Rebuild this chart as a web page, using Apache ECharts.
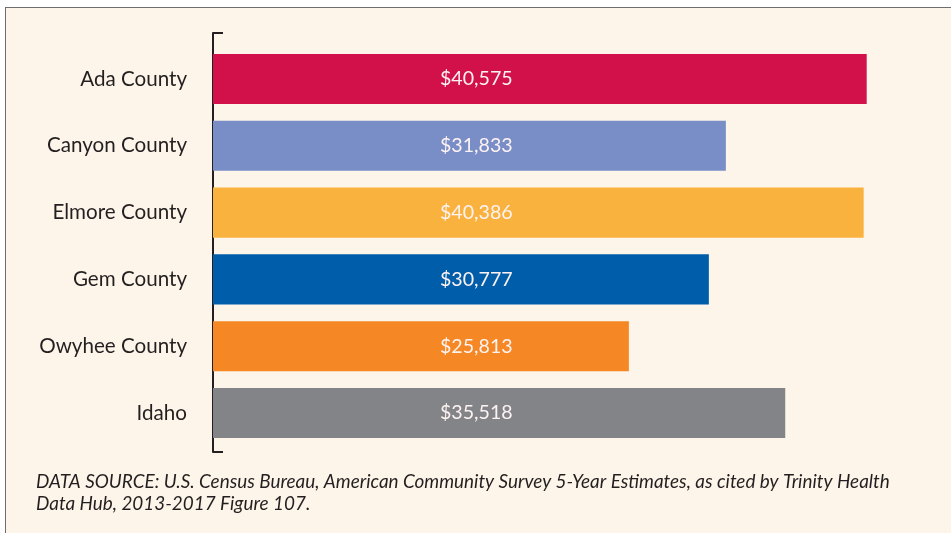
<!DOCTYPE html>
<html>
<head>
<meta charset="utf-8">
<script src="https://cdn.jsdelivr.net/npm/echarts@6/dist/echarts.min.js"></script>
<style>
  html, body { margin: 0; padding: 0; background: #ffffff; width: 951px; height: 533px; overflow: hidden; }
  #frame { position: absolute; left: 5px; top: 7px; width: 960px; height: 540px;
           background: #fdf5e9; border-left: 1.5px solid #6d6e70; border-top: 1.5px solid #6d6e70; }
  #chart { position: absolute; left: 0; top: 0; width: 951px; height: 533px; }
</style>
</head>
<body>
<div id="frame"></div>
<div id="chart"></div>
<script>
// Median household income by area
const areas = ['Ada County', 'Canyon County', 'Elmore County', 'Gem County', 'Owyhee County', 'Idaho'];
const incomes = [40575, 31833, 40386, 30777, 25813, 35518];
const barColors = ['#d2114a', '#798dc7', '#fab23f', '#005daa', '#f58724', '#838487'];
const sourceNote = 'DATA SOURCE: U.S. Census Bureau, American Community Survey 5-Year Estimates, as cited by Trinity Health\nData Hub, 2013-2017 Figure 107.';

const fmt = v => '$' + v.toLocaleString('en-US');

const chart = echarts.init(document.getElementById('chart'));
chart.setOption({
  backgroundColor: 'transparent',
  animation: false,
  title: {
    text: sourceNote,
    left: 36,
    top: 471,
    padding: 0,
    textStyle: {
      fontFamily: 'Lato',
      fontStyle: 'italic',
      fontWeight: 'normal',
      fontSize: 18.9,
      lineHeight: 22,
      color: '#231f20'
    }
  },
  grid: [
    { left: 213, top: 45.6, bottom: 86.6, width: 725 },
    { left: 213, top: 33, bottom: 81, width: 10 }
  ],
  xAxis: [
    { type: 'value', gridIndex: 0, min: 0, max: 45000, show: false },
    { type: 'value', gridIndex: 1, show: false }
  ],
  yAxis: [
    {
      type: 'category',
      gridIndex: 0,
      data: areas,
      inverse: true,
      axisLine: { show: false },
      axisTick: { show: false },
      axisLabel: {
        margin: 26,
        fontFamily: 'Lato',
        fontSize: 20.6,
        color: '#231f20'
      }
    },
    {
      // bracket-style axis line with caps at both ends
      type: 'value',
      gridIndex: 1,
      min: 0,
      max: 1,
      interval: 1,
      axisLine: { show: true, lineStyle: { color: '#231f20', width: 2 } },
      axisTick: { show: true, inside: true, length: 10, lineStyle: { color: '#231f20', width: 2 } },
      axisLabel: { show: false },
      splitLine: { show: false }
    }
  ],
  series: [{
    type: 'bar',
    xAxisIndex: 0,
    yAxisIndex: 0,
    barCategoryGap: '25%',
    data: incomes.map((v, i) => ({ value: v, itemStyle: { color: barColors[i] } })),
    label: {
      show: true,
      position: [227, '50%'],
      verticalAlign: 'middle',
      formatter: p => fmt(p.value),
      fontFamily: 'Lato',
      fontSize: 19.6,
      color: '#fdf2f2'
    }
  }]
});
</script>
</body>
</html>
